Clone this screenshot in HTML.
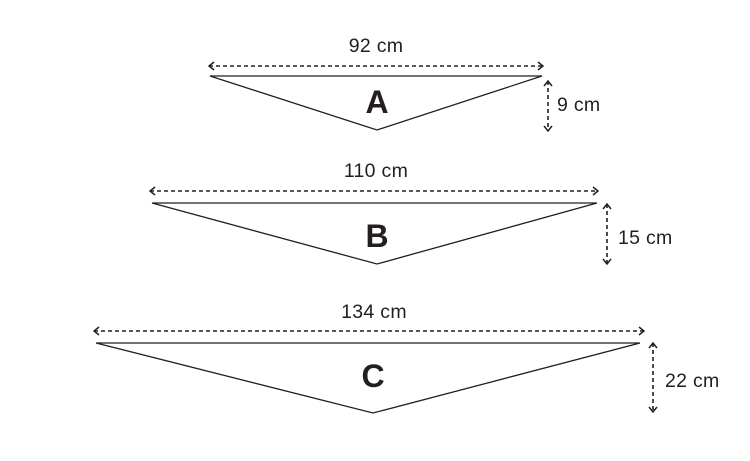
<!DOCTYPE html>
<html><head><style>
html,body{margin:0;padding:0;background:#fff;}
svg{display:block;}
text{font-family:"Liberation Sans",sans-serif;fill:#231f20;}
</style></head><body>
<svg width="750" height="461" viewBox="0 0 750 461" xmlns="http://www.w3.org/2000/svg">
<defs>
<marker id="ah" viewBox="0 0 10 10" refX="9" refY="5" markerWidth="10" markerHeight="10" orient="auto-start-reverse" markerUnits="userSpaceOnUse">
<path d="M4,1 L9,5 L4,9" fill="none" stroke="#231f20" stroke-width="1.5"/>
</marker>
</defs>
<g stroke="#231f20" stroke-width="1.3" fill="none">
<polygon points="210,76 542,76 377,130"/>
<polygon points="152,203 597,203 377,264"/>
<polygon points="96,343 640,343 373,413"/>
</g>
<g stroke="#231f20" stroke-width="1.6" stroke-dasharray="4,3" fill="none" marker-start="url(#ah)" marker-end="url(#ah)">
<line x1="209" y1="66" x2="543" y2="66"/>
<line x1="150" y1="191" x2="598" y2="191"/>
<line x1="94" y1="331" x2="644" y2="331"/>
<line x1="548" y1="81" x2="548" y2="131"/>
<line x1="607" y1="204" x2="607" y2="264"/>
<line x1="653" y1="343" x2="653" y2="412"/>
</g>
<g font-size="19.5" letter-spacing="0.3">
<text x="376" y="52" text-anchor="middle">92 cm</text>
<text x="376" y="177" text-anchor="middle">110 cm</text>
<text x="374" y="318" text-anchor="middle">134 cm</text>
<text x="557" y="111">9 cm</text>
<text x="618" y="244">15 cm</text>
<text x="665" y="387">22 cm</text>
</g>
<g font-size="32" font-weight="bold" text-anchor="middle">
<text x="377" y="113">A</text>
<text x="377" y="247">B</text>
<text x="373" y="387">C</text>
</g>
</svg>
</body></html>
